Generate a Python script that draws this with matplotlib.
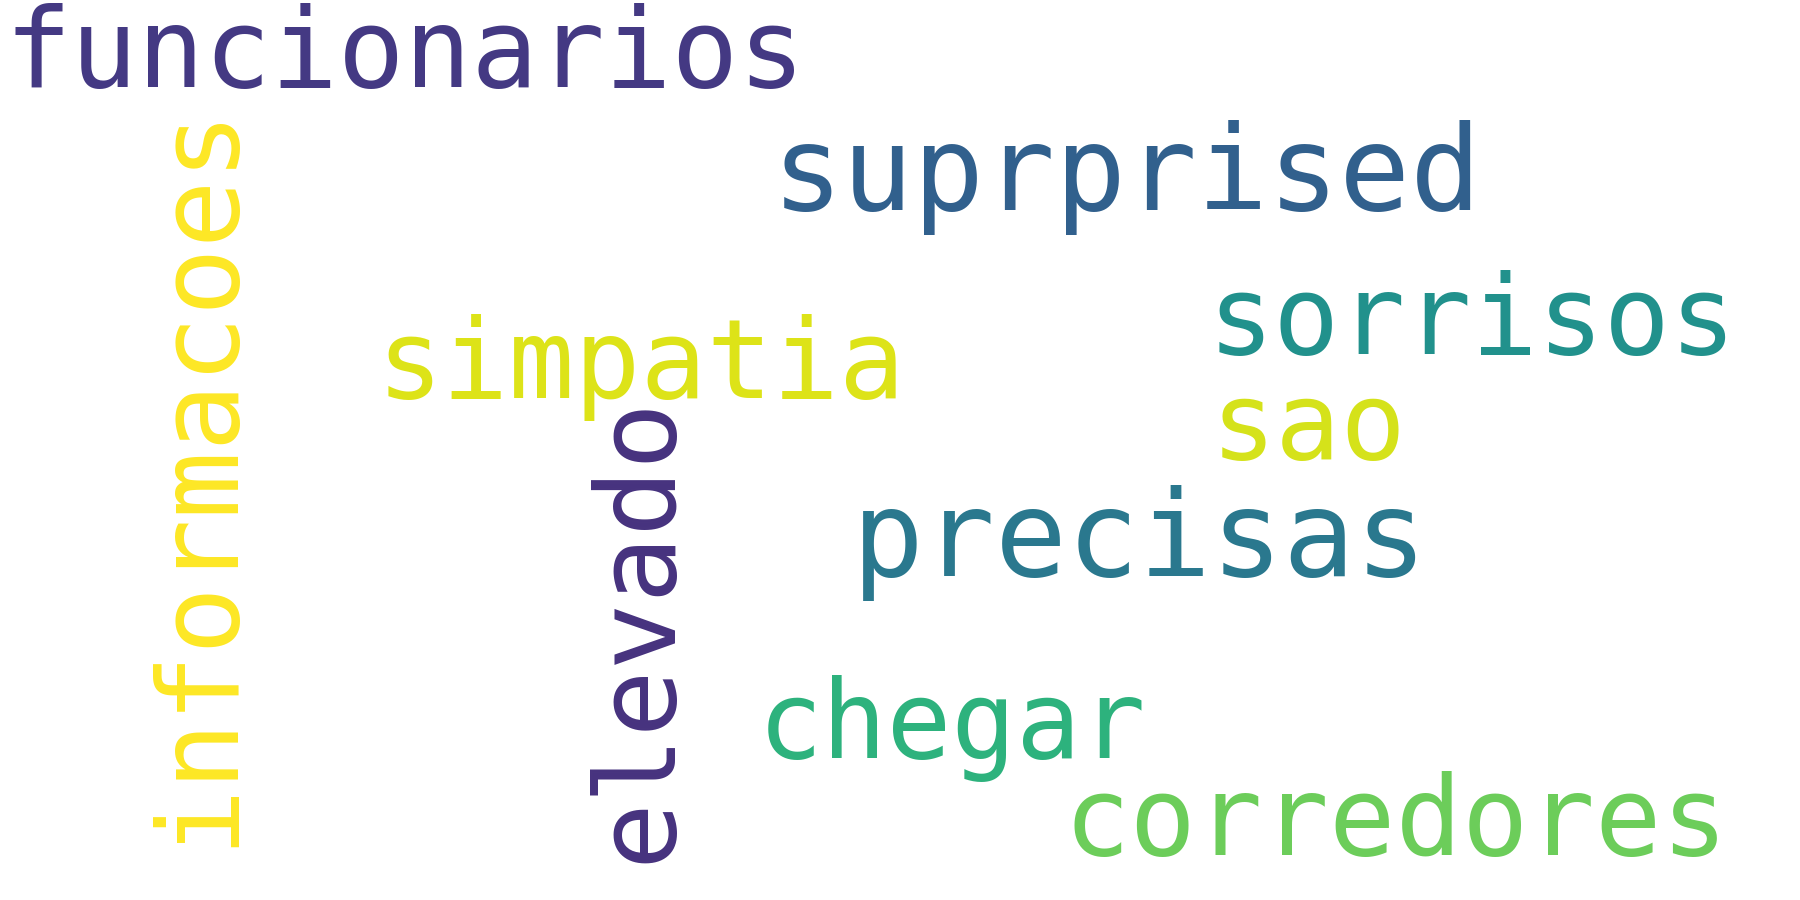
import matplotlib
matplotlib.use("Agg")
import matplotlib.pyplot as plt

# word cloud contents
words = ["funcionarios", "suprprised", "sorrisos", "sao", "simpatia",
         "precisas", "chegar", "corredores", "informacoes", "elevado"]
colors = ["#443983", "#31608d", "#21918c", "#d5e21a", "#dde318",
          "#2a788e", "#2db27d", "#6ccd5a", "#fde725", "#46327e"]

# layout (reference image px at 1568x784, baseline anchor), font size in pt
xs = [4, 672, 1052, 1055, 328, 742, 660, 926, 200, 583]
ys = [76, 183, 308, 400, 347, 502, 660, 745, 738, 752]
sizes = [79.8, 85, 79, 78, 79, 86, 77.5, 79.5, 81, 80]
rot = [0, 0, 0, 0, 0, 0, 0, 0, 90, 90]

fig = plt.figure(figsize=(18, 9), dpi=100)
fig.patch.set_facecolor("white")
for w, c, x, y, s, r in zip(words, colors, xs, ys, sizes, rot):
    fig.text(x / 1568, 1 - y / 784, w, color=c, fontsize=s,
             family="DejaVu Sans Mono", ha="left", va="baseline",
             rotation=r, rotation_mode="anchor")

fig.savefig("out.png", dpi=100, facecolor="white")
